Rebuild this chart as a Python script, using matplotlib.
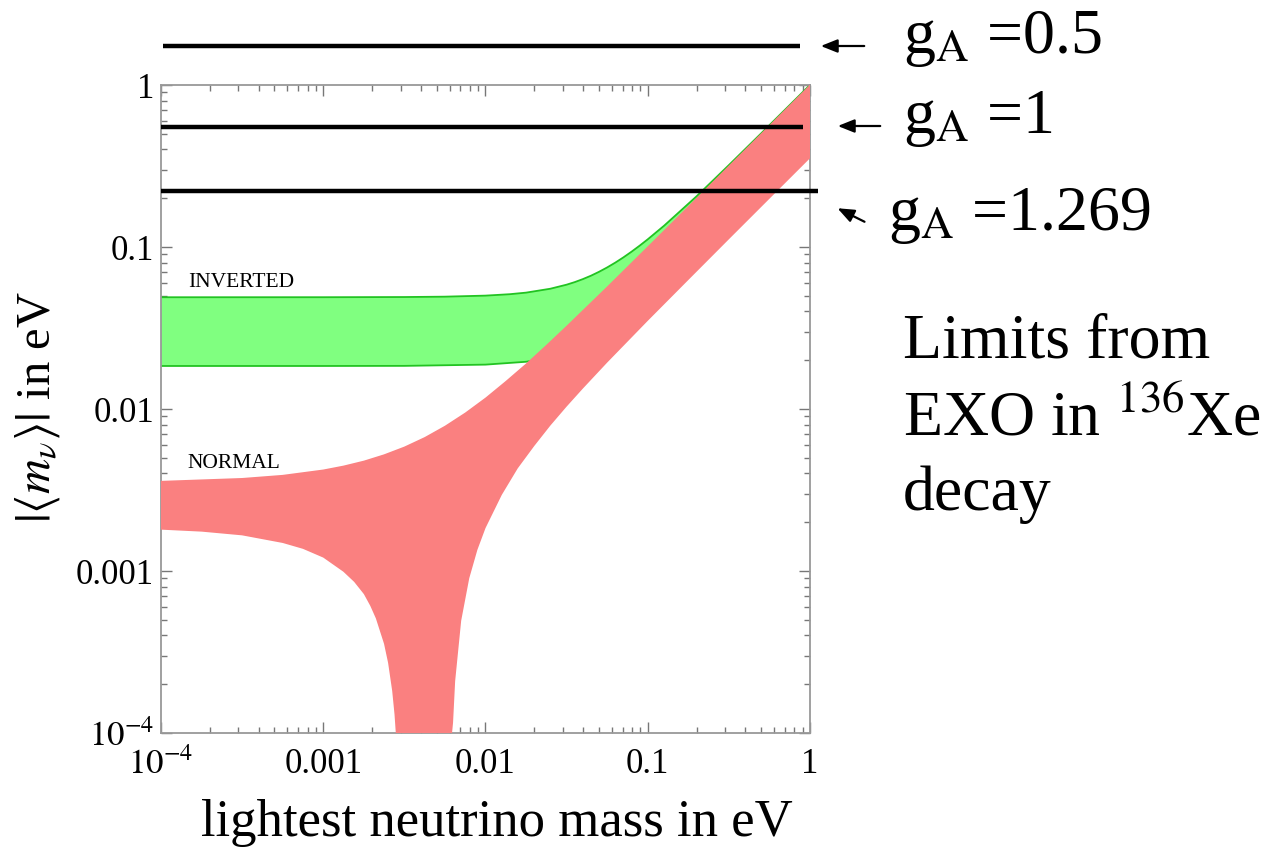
import numpy as np
import matplotlib
matplotlib.use('Agg')
import matplotlib.pyplot as plt
from matplotlib.patches import FancyArrowPatch
from matplotlib.ticker import FixedLocator, FixedFormatter, LogLocator, NullFormatter

plt.rcParams['font.family'] = ['Liberation Serif', 'DejaVu Serif']
plt.rcParams['mathtext.fontset'] = 'stix'

# ---- values (eV) ----
# normal hierarchy, upper edge
normal_up_x = [1e-4, 3.16e-4, 5.62e-4, 1e-3, 1.33e-3, 1.78e-3, 2.37e-3, 3.16e-3, 4.22e-3,
               5.62e-3, 7.5e-3, 0.01, 0.0133, 0.0178, 0.0237, 0.0316, 0.0562, 0.1, 0.178,
               0.316, 0.562, 1.0]
normal_up_y = [0.00360, 0.00375, 0.00392, 0.00423, 0.00447, 0.00480, 0.00525, 0.00586,
               0.00671, 0.00788, 0.00951, 0.01176, 0.01487, 0.01912, 0.02488, 0.03266,
               0.0571, 0.1010, 0.1792, 0.3185, 0.5663, 1.007]
# normal hierarchy, lower edge left of the cancellation dip
normal_lo_left_x = [1e-4, 1.78e-4, 3.16e-4, 5.62e-4, 7.5e-4, 1e-3, 1.33e-3, 1.55e-3,
                    1.78e-3, 1.95e-3, 2.11e-3, 2.37e-3, 2.51e-3, 2.66e-3, 2.75e-3, 2.80e-3]
normal_lo_left_y = [0.00180, 0.00175, 0.00166, 0.00149, 0.00137, 0.00121, 0.00099,
                    0.000857, 0.00072, 0.000609, 0.00051, 0.000355, 0.000271, 0.000182,
                    0.00013, 1e-4]
# normal hierarchy, lower edge right of the dip
normal_lo_right_x = [6.22e-3, 6.31e-3, 6.5e-3, 7.08e-3, 7.94e-3, 8.91e-3, 0.01, 0.0126,
                     0.0158, 0.0200, 0.0251, 0.0316, 0.0398, 0.0562, 0.1, 0.178, 0.316,
                     0.562, 1.0]
normal_lo_right_y = [1e-4, 0.000116, 0.000209, 0.000493, 0.000902, 0.00135, 0.00184,
                     0.00295, 0.00430, 0.00592, 0.00790, 0.01034, 0.01336, 0.01933,
                     0.0350, 0.0626, 0.1115, 0.1984, 0.353]
# inverted hierarchy
inverted_up_x = [1e-4, 1e-3, 3.16e-3, 5.6e-3, 0.01, 0.0141, 0.0178, 0.0251, 0.0316, 0.0355,
                 0.0398, 0.0447, 0.0501, 0.0562, 0.0631, 0.0708, 0.0794, 0.0891, 0.1,
                 0.126, 0.158, 0.200, 0.251, 0.316, 0.501, 1.0]
inverted_up_y = [0.04896, 0.04898, 0.04911, 0.04936, 0.0501, 0.05112, 0.05228, 0.05526,
                 0.05853, 0.06072, 0.06335, 0.06652, 0.0703, 0.07479, 0.08009, 0.08629,
                 0.09351, 0.10187, 0.11152, 0.13522, 0.1660, 0.2056, 0.2560, 0.3200,
                 0.5036, 1.001]
inverted_lo_x = [1e-4, 1e-3, 3.16e-3, 0.01, 0.0178, 0.0251, 0.0316, 0.1, 0.316, 1.0]
inverted_lo_y = [0.01843, 0.01843, 0.01846, 0.01879, 0.01957, 0.02064, 0.02183, 0.04133,
                 0.1184, 0.3705]

# EXO limits for the three g_A values
limit_gA = ['0.5', '1', '1.269']
limit_mass = [1.74, 0.552, 0.223]
limit_xmin = [1.03e-4, 1e-4, 1e-4]
limit_xmax = [0.87, 0.90, 1.12]

tick_vals = [1e-4, 1e-3, 1e-2, 1e-1, 1]
tick_labels = ['$10^{-4}$', '0.001', '0.01', '0.1', '1']

W, H = 1261, 850
fig = plt.figure(figsize=(W / 100, H / 100), dpi=100)
ax = fig.add_axes([161 / W, 1 - 733 / H, 649 / W, 648 / H])
ax.set_xscale('log')
ax.set_yscale('log')
ax.set_xlim(1e-4, 1)
ax.set_ylim(1e-4, 1)

# inverted band (green)
gx = inverted_up_x + inverted_lo_x[::-1]
gy = inverted_up_y + inverted_lo_y[::-1]
ax.fill(gx, gy, facecolor='#80ff80', edgecolor='none', zorder=2)
ax.plot(inverted_up_x, inverted_up_y, color='#22c322', linewidth=1.3, zorder=2)
ax.plot(inverted_lo_x, inverted_lo_y, color='#22c322', linewidth=1.3, zorder=2)

# normal band (red), drawn on top
rx = normal_up_x + normal_lo_right_x[::-1] + normal_lo_left_x[::-1]
ry = normal_up_y + normal_lo_right_y[::-1] + normal_lo_left_y[::-1]
ax.fill(rx, ry, facecolor='#fa8080', edgecolor='none', zorder=3)

# limit lines
for m, x0, x1 in zip(limit_mass, limit_xmin, limit_xmax):
    ax.plot([x0, x1], [m, m], color='black', linewidth=3.2, clip_on=False,
            solid_capstyle='butt', zorder=5)

ax.text(1.47e-4, 0.0565, 'INVERTED', fontsize=15.5, va='baseline', ha='left', zorder=6)
ax.text(1.45e-4, 0.00431, 'NORMAL', fontsize=15.5, va='baseline', ha='left', zorder=6)

# axes styling (Mathematica look)
for s in ax.spines.values():
    s.set_color('#999999')
    s.set_linewidth(1.3)
for axis in (ax.xaxis, ax.yaxis):
    axis.set_major_locator(FixedLocator(tick_vals))
    axis.set_major_formatter(FixedFormatter(tick_labels))
    axis.set_minor_locator(LogLocator(base=10, subs=np.arange(2, 10)))
    axis.set_minor_formatter(NullFormatter())
ax.tick_params(which='both', direction='in', top=True, right=True, color='#777777')
ax.tick_params(which='major', length=8, width=1.0, labelsize=25)
ax.tick_params(which='minor', length=4, width=1.0)
ax.tick_params(axis='x', which='major', pad=11)
ax.tick_params(axis='y', which='major', pad=5)

fig.text(497 / W, 1 - 836 / H, 'lightest neutrino mass in eV', fontsize=38,
         ha='center', va='baseline')
fig.text(38 / W, 1 - 407 / H, r'$|\langle m_\nu\rangle|$ in eV', fontsize=35,
         rotation=90, ha='center', va='center')

# arrows and g_A labels (figure pixels from top)
arrow_tail = [(867, 46), (883, 126), (867, 223)]
arrow_head = [(818, 46), (835, 126), (835, 207)]
label_pos = [(903, 53), (903, 133), (888, 230)]
for g, t, h, p in zip(limit_gA, arrow_tail, arrow_head, label_pos):
    fig.add_artist(FancyArrowPatch(
        (t[0] / W, 1 - t[1] / H), (h[0] / W, 1 - h[1] / H),
        transform=fig.transFigure, arrowstyle='-|>,head_length=10,head_width=4',
        mutation_scale=1, color='black', linewidth=1.6))
    fig.text(p[0] / W, 1 - p[1] / H, r'g$_{\mathrm{A}}$ =' + g, fontsize=46,
             ha='left', va='baseline')

fig.text(903 / W, 1 - 358 / H, 'Limits from', fontsize=46, ha='left', va='baseline')
fig.text(903 / W, 1 - 435 / H, r'EXO in $^{136}$Xe', fontsize=46, ha='left', va='baseline')
fig.text(903 / W, 1 - 510 / H, 'decay', fontsize=46, ha='left', va='baseline')

fig.savefig('out.png', dpi=100)
